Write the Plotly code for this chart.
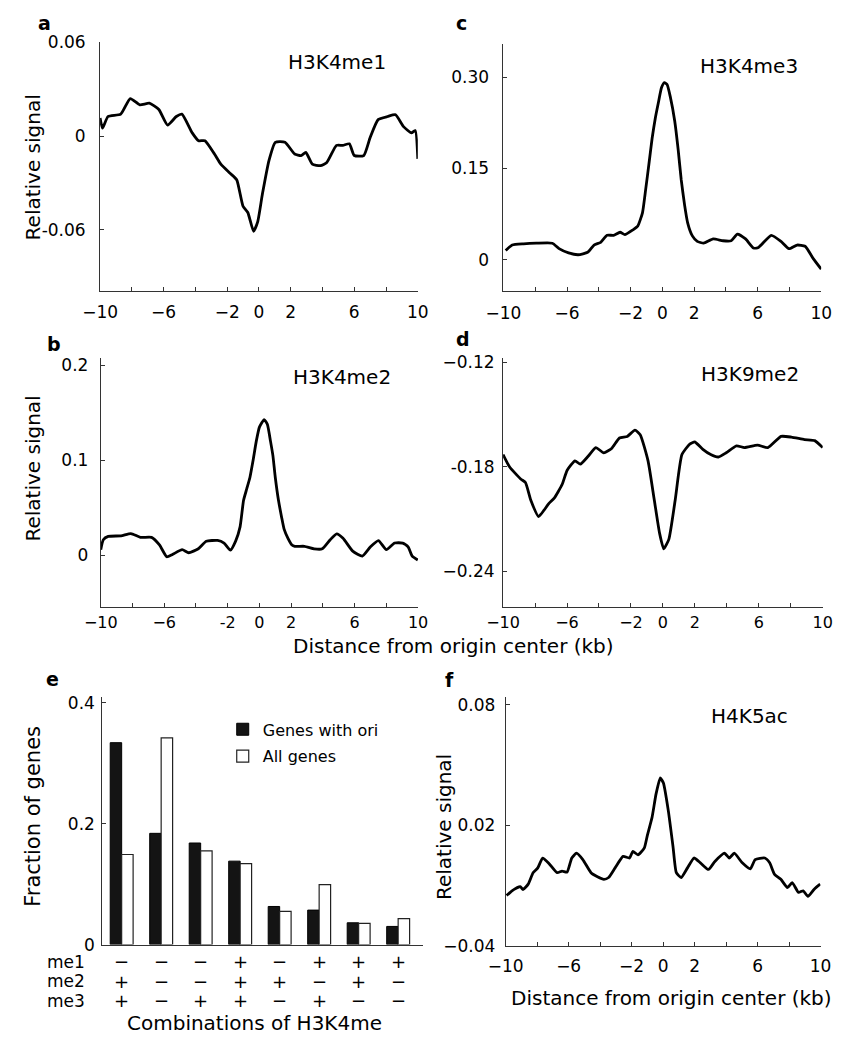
import plotly.graph_objects as go

W, H = 846, 1050

# ---------------- data ----------------
x_a = [-10,-9.85,-9.5,-8.7,-8.1,-7.5,-6.9,-6.3,-5.75,-5.2,-4.85,-4.2,-3.8,-3.4,-2.8,-2.4,-1.8,-1.4,-1.0,-0.7,-0.34,-0.08,0.22,0.63,1.03,1.64,2.25,2.65,2.95,3.36,3.87,4.27,4.88,5.28,5.69,6.0,6.6,7.0,7.5,8.1,8.6,9.1,9.6,9.84,10]
y_a = [0.0115,0.005,0.0125,0.014,0.024,0.02,0.021,0.017,0.007,0.0125,0.014,0.002,-0.003,-0.003,-0.0115,-0.018,-0.024,-0.028,-0.045,-0.049,-0.061,-0.055,-0.037,-0.0157,-0.004,-0.004,-0.0115,-0.0125,-0.0105,-0.018,-0.019,-0.017,-0.006,-0.006,-0.005,-0.0125,-0.0125,-0.001,0.0105,0.0125,0.0136,0.006,0.002,0.0035,-0.0146]

x_c = [-9.86,-9.45,-8.74,-7.93,-6.92,-6.5,-5.9,-5.3,-4.7,-4.3,-3.88,-3.48,-3.07,-2.66,-2.36,-1.85,-1.55,-1.25,-1.05,-0.84,-0.64,-0.44,-0.25,-0.05,0.13,0.3,0.5,0.78,1.0,1.19,1.4,1.59,1.89,2.2,2.6,3.2,3.82,4.33,4.73,5.24,5.74,6.05,6.86,7.47,7.97,8.48,8.99,9.5,10]
y_c = [0.015,0.024,0.026,0.027,0.027,0.018,0.011,0.008,0.012,0.024,0.0285,0.040,0.040,0.045,0.041,0.049,0.055,0.077,0.115,0.158,0.2,0.233,0.258,0.283,0.291,0.288,0.268,0.228,0.18,0.131,0.09,0.061,0.039,0.030,0.027,0.034,0.031,0.031,0.042,0.034,0.019,0.020,0.040,0.030,0.018,0.024,0.022,0.0016,-0.0156]

x_b = [-10,-9.84,-9.53,-8.72,-8.1,-7.5,-6.8,-6.3,-5.84,-5.48,-4.87,-4.46,-3.85,-3.35,-2.64,-2.23,-1.83,-1.5,-1.22,-1.0,-0.8,-0.6,-0.4,-0.2,0.0,0.3,0.5,0.7,0.85,1.0,1.2,1.4,1.55,1.8,2.05,2.23,2.84,3.45,3.96,4.46,4.87,5.27,5.88,6.49,7.0,7.5,8.0,8.52,9.03,9.37,9.63,9.98]
y_b = [0.006,0.0165,0.020,0.0206,0.023,0.019,0.019,0.011,-0.0014,0.001,0.006,0.0028,0.007,0.0148,0.0158,0.013,0.0055,0.015,0.030,0.058,0.070,0.082,0.10,0.12,0.135,0.143,0.138,0.12,0.105,0.082,0.058,0.04,0.028,0.018,0.011,0.0096,0.0096,0.0069,0.0069,0.0165,0.0227,0.018,0.0045,-0.0007,0.009,0.0155,0.006,0.013,0.013,0.009,-0.0007,-0.0048]

x_d = [-10,-9.6,-8.9,-8.6,-8.27,-7.78,-7.45,-7.13,-6.8,-6.3,-5.99,-5.5,-5.17,-4.68,-4.2,-3.7,-3.21,-2.72,-2.23,-1.75,-1.42,-0.93,-0.54,-0.21,0.05,0.37,0.77,1.19,1.68,2.0,2.5,2.99,3.47,3.96,4.6,5.1,5.92,6.57,7.39,8.04,8.86,9.5,10]
y_d = [-0.173,-0.180,-0.187,-0.189,-0.199,-0.2085,-0.205,-0.201,-0.198,-0.190,-0.182,-0.1766,-0.1785,-0.174,-0.169,-0.172,-0.1695,-0.1635,-0.1626,-0.159,-0.1616,-0.1766,-0.199,-0.218,-0.227,-0.2216,-0.199,-0.173,-0.167,-0.1658,-0.170,-0.173,-0.1744,-0.172,-0.168,-0.169,-0.1676,-0.169,-0.1626,-0.163,-0.1644,-0.165,-0.169]

x_f = [-9.94,-9.6,-9.08,-8.9,-8.57,-8.26,-7.96,-7.65,-7.24,-6.73,-6.42,-6.1,-5.8,-5.5,-5.1,-4.58,-4.17,-3.76,-3.46,-3.05,-2.54,-2.13,-1.92,-1.6,-1.2,-1.0,-0.7,-0.45,-0.18,0.02,0.33,0.63,0.84,1.15,1.55,1.96,2.37,2.88,3.29,3.9,4.2,4.52,5.03,5.54,5.85,6.46,6.77,7.08,7.48,7.9,8.2,8.6,8.9,9.2,9.6,9.98]
y_f = [-0.015,-0.0126,-0.0105,-0.012,-0.0093,-0.0036,-0.0012,0.0037,0.0009,-0.0036,-0.0028,-0.0033,0.0037,0.0061,0.0029,-0.0036,-0.0056,-0.0069,-0.006,-0.0012,0.0045,0.0037,0.007,0.0053,0.0086,0.015,0.024,0.0355,0.0436,0.041,0.0273,0.0094,-0.0036,-0.006,-0.0012,0.0037,0.0013,-0.002,0.002,0.0061,0.0037,0.0061,0.0013,-0.0017,0.0029,0.0037,0.0013,-0.0044,-0.0069,-0.011,-0.0085,-0.0134,-0.0126,-0.0154,-0.0118,-0.0093]

combo_idx = [0, 1, 2, 3, 4, 5, 6, 7]
me1 = ["−", "−", "−", "+", "−", "+", "+", "+"]
me2 = ["+", "−", "−", "+", "+", "−", "+", "−"]
me3 = ["+", "−", "+", "+", "−", "+", "−", "−"]
genes_with_ori = [0.334, 0.184, 0.168, 0.138, 0.063, 0.057, 0.036, 0.030]
all_genes = [0.149, 0.342, 0.155, 0.134, 0.055, 0.099, 0.035, 0.043]

dist_tickvals = [-10, -8, -6, -4, -2, 0, 2, 4, 6, 8, 10]
dist_ticktext = ["−10", "", "−6", "", "−2", "0", "2", "", "6", "", "10"]
dist_ticktext_b = ["−10", "", "−6", "", "-2", "0", "2", "", "6", "", "10"]

FONT = "DejaVu Sans"
AX = "#333333"

def px_x(p):
    return p / W

def px_y(p):
    return 1 - p / H

fig = go.Figure()

line_style = dict(color="black", width=2.8, shape="spline", smoothing=0.5)
panels = [
    (x_a, y_a, "x", "y"),
    (x_b, y_b, "x2", "y2"),
    (x_c, y_c, "x3", "y3"),
    (x_d, y_d, "x4", "y4"),
    (x_f, y_f, "x6", "y6"),
]
for xs, ys, xa, ya in panels:
    fig.add_trace(go.Scatter(x=xs, y=ys, mode="lines", line=line_style,
                             xaxis=xa, yaxis=ya, showlegend=False, hoverinfo="skip"))

fig.add_trace(go.Bar(x=combo_idx, y=genes_with_ori, name="Genes with ori",
                     marker=dict(color="#141414", line=dict(color="black", width=1)),
                     xaxis="x5", yaxis="y5", legendgroup="g1"))
fig.add_trace(go.Bar(x=combo_idx, y=all_genes, name="All genes",
                     marker=dict(color="white", line=dict(color="#222222", width=1.2)),
                     xaxis="x5", yaxis="y5", legendgroup="g2"))


def xaxis(dom, anchor, ticktext, rng=(-10, 10), standoff=4, size=17):
    return dict(domain=[px_x(dom[0]), px_x(dom[1])], range=list(rng), anchor=anchor,
                tickmode="array", tickvals=dist_tickvals, ticktext=ticktext,
                ticks="inside", ticklen=4, tickcolor=AX, tickwidth=1,
                showline=True, linecolor=AX, linewidth=1, showgrid=False, zeroline=False,
                tickfont=dict(family=FONT, size=size, color="black"),
                ticklabelstandoff=standoff, fixedrange=True)


def yaxis(dom, anchor, rng, tickvals, ticktext, standoff=8):
    return dict(domain=[px_y(dom[1]), px_y(dom[0])], range=list(rng), anchor=anchor,
                tickmode="array", tickvals=tickvals, ticktext=ticktext,
                ticks="inside", ticklen=4, tickcolor=AX, tickwidth=1,
                showline=True, linecolor=AX, linewidth=1, showgrid=False, zeroline=False,
                tickfont=dict(family=FONT, size=17, color="black"),
                ticklabelstandoff=standoff, fixedrange=True)


layout = dict(
    width=W, height=H, margin=dict(l=0, r=0, t=0, b=0),
    paper_bgcolor="white", plot_bgcolor="white",
    font=dict(family=FONT, color="black"),
    barmode="group", bargap=0.42, bargroupgap=0,
    showlegend=True,
    legend=dict(x=px_x(212), y=px_y(716), xanchor="left", yanchor="top",
                font=dict(family=FONT, size=16, color="black"),
                bgcolor="rgba(0,0,0,0)", tracegroupgap=3, traceorder="grouped"),
    # panel a
    xaxis=xaxis((85, 414), "y", dist_ticktext, standoff=6),
    yaxis=yaxis((33, 286), "x", (-0.099, 0.06), [0.06, 0, -0.06], ["0.06", "0", "-0.06"], standoff=10),
    # panel b
    xaxis2=xaxis((85.7, 414.3), "y2", dist_ticktext_b, standoff=1, size=16),
    yaxis2=yaxis((355, 608.3), "x2", (-0.054, 0.2075), [0.2, 0.1, 0], ["0.2", "0.1", "0"], standoff=8),
    # panel c
    xaxis3=xaxis((502.7, 831.7), "y3", dist_ticktext, standoff=6),
    yaxis3=yaxis((35, 286.7), "x3", (-0.052, 0.354), [0.30, 0.15, 0], ["0.30", "0.15", "0"], standoff=10),
    # panel d
    xaxis4=xaxis((502.3, 833.3), "y4", dist_ticktext, standoff=1, size=16),
    yaxis4=yaxis((355, 608.3), "x4", (-0.2602, -0.1178), [-0.12, -0.18, -0.24], ["−0.12", "-0.18", "−0.24"], standoff=4),
    # panel e
    xaxis5=dict(domain=[px_x(87.3), px_x(419)], range=[-0.49, 7.62], anchor="y5",
                showticklabels=False, ticks="", showline=True, linecolor=AX, linewidth=1,
                showgrid=False, zeroline=False, fixedrange=True),
    yaxis5=yaxis((700.7, 952.7), "x5", (0, 0.409), [0.4, 0.2, 0], ["0.4", "0.2", "0"], standoff=3),
    # panel f
    xaxis6=xaxis((505, 831), "y6", dist_ticktext, standoff=5),
    yaxis6=yaxis((700, 954), "x6", (-0.04, 0.084), [0.08, 0.02, -0.04], ["0.08", "0.02", "−0.04"], standoff=6),
)

ann = []

def text(x, y, s, size=20, bold=False, angle=0, xanchor="center"):
    ann.append(dict(x=px_x(x), y=px_y(y), xref="paper", yref="paper", text=("<b>%s</b>" % s) if bold else s,
                    showarrow=False, xanchor=xanchor, yanchor="middle", textangle=angle,
                    font=dict(family=FONT, size=size, color="black")))

# panel letters
text(27, 13, "a", 19, bold=True)
text(459, 13, "c", 19, bold=True)
text(37, 340, "b", 19, bold=True)
text(461, 335, "d", 19, bold=True)
text(36, 682, "e", 19, bold=True)
text(447, 683, "f", 19, bold=True)

# panel titles
text(330, 53, "H3K4me1", 20)
text(757, 57, "H3K4me3", 20)
text(335, 374, "H3K4me2", 20)
text(758, 371, "H3K9me2", 20)
text(757, 720, "H4K5ac", 20)

# axis titles
text(16, 160, "Relative signal", 20, angle=-90)
text(16, 467, "Relative signal", 20, angle=-90)
text(441, 833, "Relative signal", 20, angle=-90)
text(16, 822, "Fraction of genes", 21, angle=-90)
text(451, 648, "Distance from origin center (kb)", 20)
text(677, 1007, "Distance from origin center (kb)", 20)
text(245, 1033, "Combinations of H3K4me", 20)

# combination table
row_y = [970, 990, 1010]
for name, yy in zip(["me1", "me2", "me3"], row_y):
    text(28, yy, name, 17, xanchor="left")
for row, yy in zip([me1, me2, me3], row_y):
    for i, s in zip(combo_idx, row):
        ann.append(dict(x=i, y=px_y(yy), xref="x5", yref="paper", text=s, showarrow=False,
                        xanchor="center", yanchor="middle",
                        font=dict(family=FONT, size=18, color="black")))

layout["annotations"] = ann
fig.update_layout(**layout)

fig.write_html("out.html", config={"displayModeBar": False})

# remove the default page margin so the figure sits exactly in the 846x1050 window
with open("out.html", "r", encoding="utf-8") as fh:
    html = fh.read()
html = html.replace("<head>", "<head><style>html,body{margin:0;padding:0;overflow:hidden;}</style>", 1)
with open("out.html", "w", encoding="utf-8") as fh:
    fh.write(html)
